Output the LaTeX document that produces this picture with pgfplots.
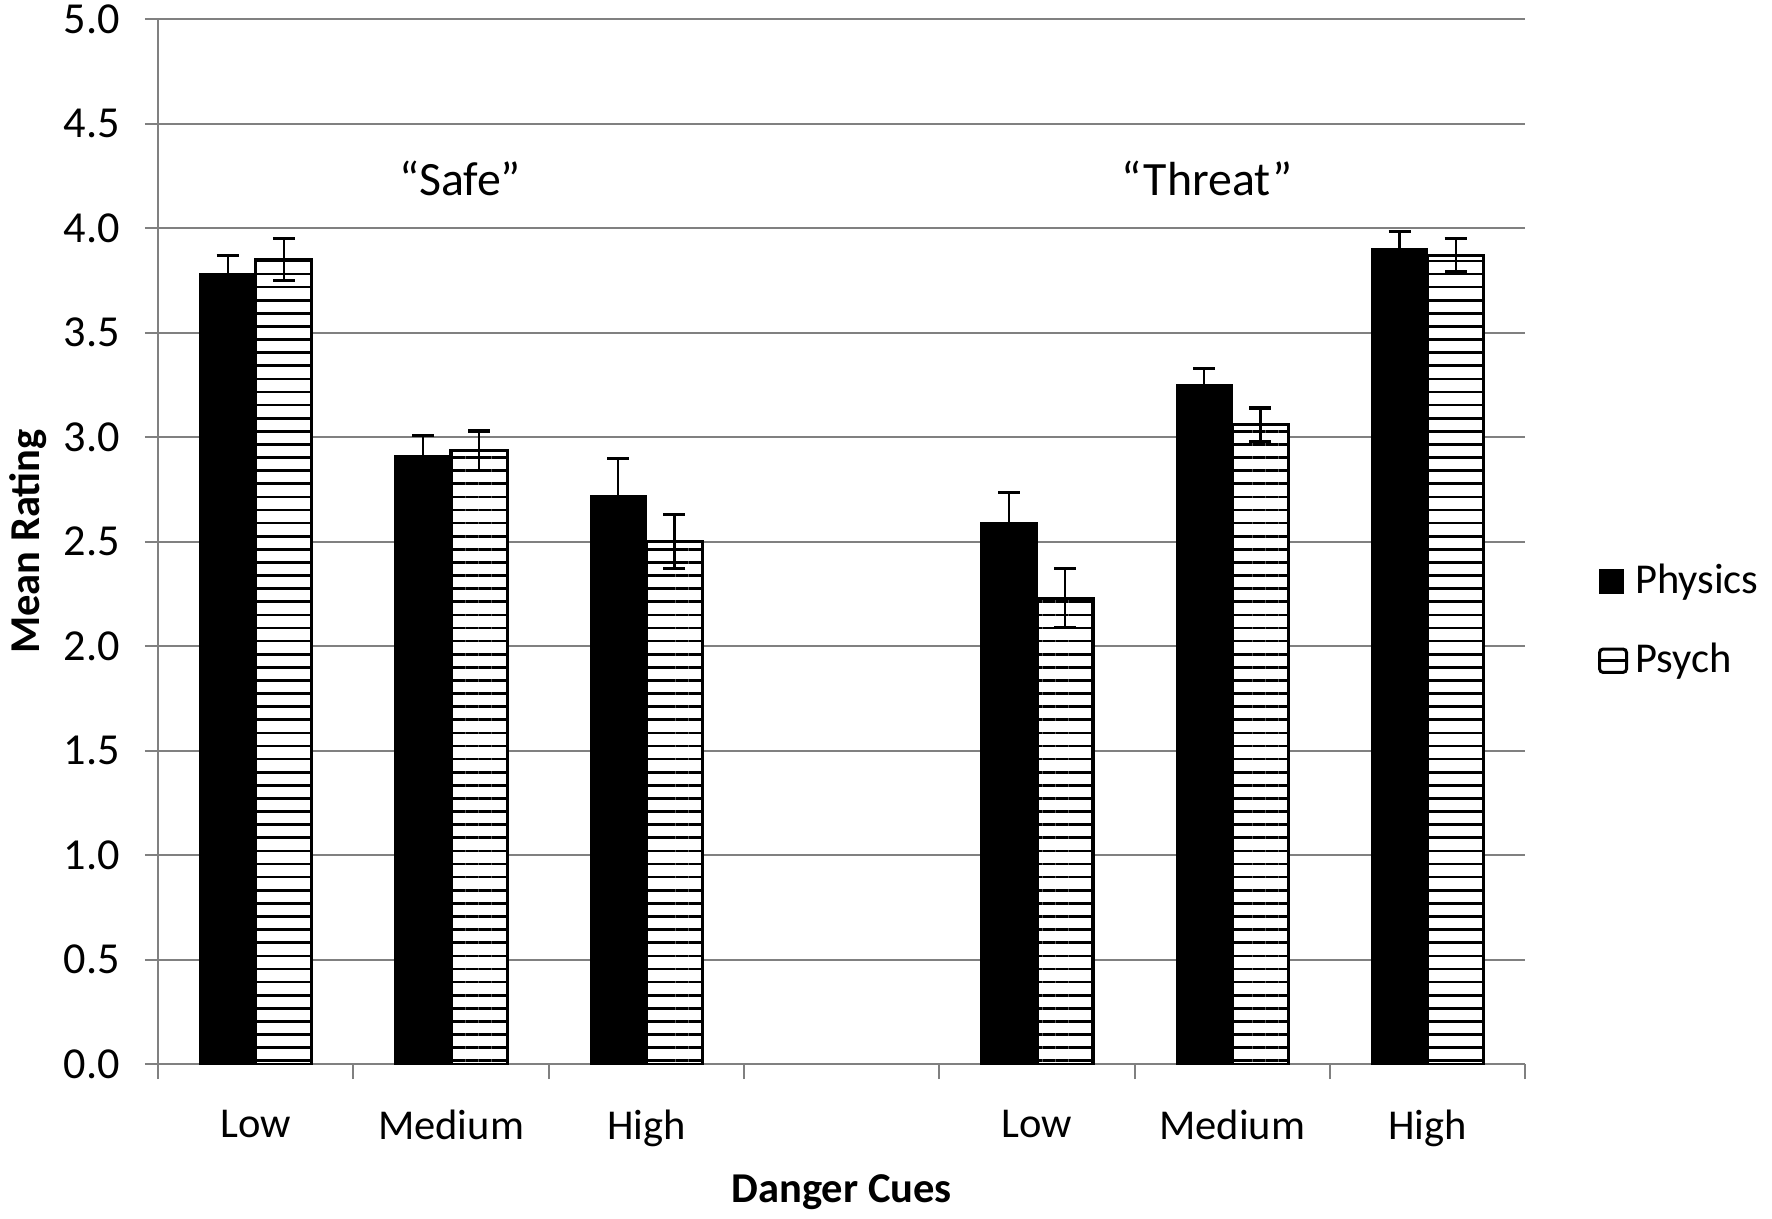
\documentclass[border=0pt]{standalone}
\usepackage{pgfplots}
\pgfplotsset{compat=1.18}
\usepackage{pgfplotstable}
\usepackage{fontspec}
\setmainfont{Carlito}
\usetikzlibrary{patterns.meta}

\pgfplotstableread{
x phys physerr psych psycherr
0 3.78 0.09 3.85 0.10
1 2.91 0.10 2.935 0.095
2 2.72 0.18 2.50 0.13
4 2.59 0.145 2.23 0.14
5 3.25 0.08 3.06 0.08
6 3.90 0.085 3.87 0.08
}\data

\begin{document}
\begin{tikzpicture}
\path[use as bounding box] (-44.6pt,-43.4pt) rectangle (455.4pt,300.3pt);
\begin{axis}[
  at={(0,0)}, anchor=south west,
  scale only axis, width=385.8pt, height=294.9pt,
  xmin=-0.5, xmax=6.5, ymin=0, ymax=5,
  ybar, bar width=0.287,
  axis x line*=bottom, axis y line*=left,
  axis line style={-, black!50, line width=0.6pt},
  ytick={0,0.5,...,5},
  /pgf/number format/.cd, fixed, fixed zerofill, precision=1, assume math mode=true,
  /pgfplots/.cd,
  ymajorgrids, grid style={black!50, line width=0.6pt},
  tick align=outside,
  major tick length=3.7pt, minor tick length=4.2pt,
  major tick style={black!50, line width=0.6pt},
  minor tick style={black!50, line width=0.6pt},
  xtick={0,1,2,3,4,5,6},
  xticklabels={Low,Medium,High,,Low,Medium,High},
  major x tick style={draw=none},
  minor xtick={-0.5,0.5,...,6.5},
  yticklabel style={font=\fontsize{12.5}{14}\selectfont, xshift=-3.5pt},
  xticklabel style={font=\fontsize{12}{14}\selectfont, yshift=-5.6pt},
  xlabel={\textbf{Danger Cues}},
  ylabel={\textbf{Mean Rating}},
  every axis x label/.style={at={(axis description cs:0.5,-0.1225)}, anchor=center, font=\fontsize{12}{14}\selectfont},
  every axis y label/.style={at={(axis description cs:-0.0951,0.5)}, rotate=90, anchor=center, font=\fontsize{12}{14}\selectfont},
  legend style={at={(1.0527,0.424)}, anchor=west, draw=none, fill=none,
    font=\fontsize{12}{14}\selectfont, row sep=8.5pt, inner sep=0pt},
  legend cell align=left,
]
\addplot[bar shift=-0.1435, fill=black, draw=black,
  legend image code/.code={\fill[black] (0pt,-3.4pt) rectangle (6.7pt,3.4pt);},
  error bars/.cd, y dir=both, y explicit,
  error bar style={black, line width=0.65pt},
  error mark options={rotate=90, mark size=3.1pt, line width=0.9pt, black}]
  table[x=x, y=phys, y error=physerr] {\data};
\addlegendentry{Physics}
\addplot[bar shift=0.1435, fill=white, draw=none, forget plot]
  table[x=x, y=psych] {\data};
\addplot[bar shift=0.1435, draw=black, line width=0.9pt,
  pattern={Lines[angle=0,distance=3.7pt,line width=0.75pt]}, pattern color=black,
  legend image code/.code={\draw[black, fill=white, line width=0.85pt, rounded corners=1pt] (0pt,-3.3pt) rectangle (7.6pt,3.3pt); \draw[black, line width=0.85pt] (0pt,0pt)--(7.6pt,0pt);},
  error bars/.cd, y dir=both, y explicit,
  error bar style={black, line width=0.65pt},
  error mark options={rotate=90, mark size=3.1pt, line width=0.9pt, black}]
  table[x=x, y=psych, y error=psycherr] {\data};
\addlegendentry{Psych}
\node[font=\fontsize{13.5}{16}\selectfont] at (axis cs:1.046,4.24) {“Safe”};
\node[font=\fontsize{13.5}{16}\selectfont] at (axis cs:4.87,4.24) {“Threat”};
\end{axis}
\end{tikzpicture}
\end{document}
